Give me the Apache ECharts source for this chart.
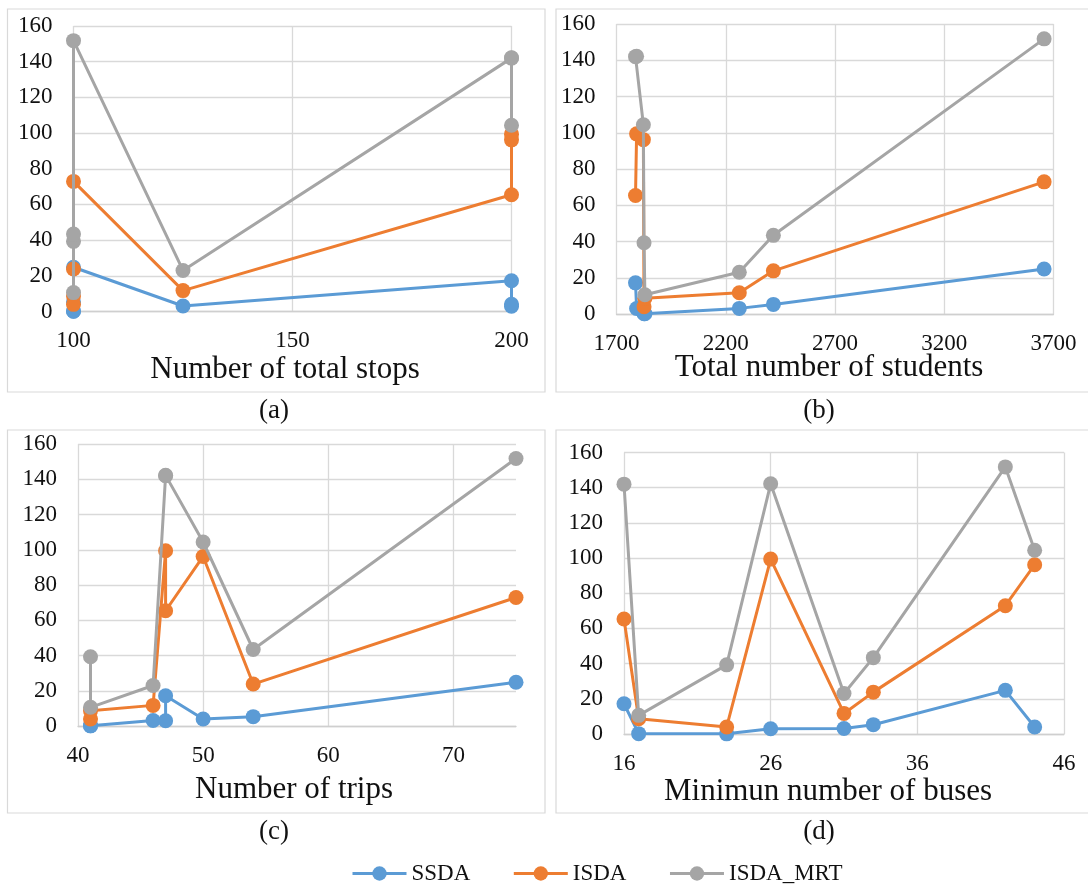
<!DOCTYPE html>
<html><head><meta charset="utf-8">
<script src="https://cdn.jsdelivr.net/npm/echarts@6/dist/echarts.min.js"></script>
<style>html,body{margin:0;padding:0;background:#fff;font-family:"Liberation Serif",serif}#c{width:1088px;height:888px}</style>
</head><body><div id="c"></div>
<script>
// ---- data (one entry per test instance) ----
const seriesNames = ['SSDA', 'ISDA', 'ISDA_MRT'];
const buses    = [16, 17, 23, 26, 31, 33, 42, 44];
const trips    = [47, 41, 41, 47, 46, 54, 75, 50];
const stops    = [200, 100, 100, 200, 125, 100, 100, 200];
const students = [1787, 1830, 1826, 1792, 2262, 2418, 3657, 1823];
const ssda     = [17.2, 0.2, 0.1, 3.0, 3.1, 5.3, 24.8, 4.0];
const isda     = [65.4, 8.7, 4.0, 99.4, 11.7, 23.8, 72.9, 96.2];
const isdaMrt  = [142.0, 10.6, 39.3, 142.2, 23.0, 43.4, 151.8, 104.4];
// order in which the points are joined in each panel
const orderStops    = [1, 2, 5, 6, 4, 0, 3, 7];
const orderStudents = [0, 3, 7, 2, 1, 4, 5, 6];
const orderTrips    = [2, 1, 4, 3, 0, 7, 5, 6];
const orderBuses    = [0, 1, 2, 3, 4, 5, 6, 7];
// axis ticks [min, max, step]
const yMin = 0, yMax = 160, yStep = 20;
const stopsTicks    = [100, 200, 50];
const studentsTicks = [1700, 3700, 500];
const tripsTicks    = [40, 75, 10];
const busesTicks    = [16, 46, 10];
const axisTitles = ['Number of total stops', 'Total number of students', 'Number of trips', 'Minimun number of buses'];
const panelLabels = ['(a)', '(b)', '(c)', '(d)'];

// ---- layout / style ----
const FONT = '"Liberation Serif", serif';
const colors = ['#5B9BD5', '#ED7D31', '#A5A5A5'];
const yValues = [ssda, isda, isdaMrt];
const panels = [
  {x: stops, order: orderStops, ticks: stopsTicks, grid: {left: 73.5, top: 26, width: 438, height: 285.5},
   box: [7.5, 9, 537.5, 383], title: [285, 370], label: [274, 411]},
  {x: students, order: orderStudents, ticks: studentsTicks, grid: {left: 616.5, top: 24, width: 437, height: 290},
   box: [556, 9, 540, 383], title: [829, 368], label: [819, 411]},
  {x: trips, order: orderTrips, ticks: tripsTicks, grid: {left: 78, top: 444, width: 438, height: 282},
   box: [7.5, 430, 537.5, 383], title: [294, 790], label: [274, 832]},
  {x: buses, order: orderBuses, ticks: busesTicks, grid: {left: 624, top: 452.5, width: 440, height: 281.5},
   box: [556, 430, 540, 383], title: [828, 792], label: [819, 832]}
];

const grid = [], xAxis = [], yAxis = [], series = [], graphic = [];
const labelStyle = {fontFamily: FONT, fontSize: 23, color: '#111'};
panels.forEach((p, pi) => {
  const maxOnStep = (p.ticks[1] - p.ticks[0]) % p.ticks[2] === 0;
  grid.push(Object.assign({containLabel: false}, p.grid));
  xAxis.push({
    type: 'value', gridIndex: pi, min: p.ticks[0], max: p.ticks[1], interval: p.ticks[2],
    axisLine: {show: true, onZero: false, lineStyle: {color: '#cfcfcf', width: 1.3}},
    axisTick: {show: false},
    axisLabel: Object.assign({margin: 18, showMaxLabel: maxOnStep, formatter: v => String(v)}, labelStyle),
    splitLine: {show: true, showMaxLine: maxOnStep, lineStyle: {color: '#d9d9d9', width: 1.3}}
  });
  yAxis.push({
    type: 'value', gridIndex: pi, min: yMin, max: yMax, interval: yStep,
    axisLine: {show: false}, axisTick: {show: false},
    axisLabel: Object.assign({margin: 21, formatter: v => String(v)}, labelStyle),
    splitLine: {show: true, lineStyle: {color: '#d9d9d9', width: 1.3}}
  });
  yValues.forEach((ys, si) => {
    series.push({
      name: seriesNames[si], type: 'line', xAxisIndex: pi, yAxisIndex: pi,
      data: p.order.map(i => [p.x[i], ys[i]]),
      symbol: 'circle', symbolSize: 15, showSymbol: true,
      itemStyle: {color: colors[si]},
      lineStyle: {color: colors[si], width: 3},
      emphasis: {disabled: true}, z: 2 + si
    });
  });
  graphic.push({type: 'rect', shape: {x: p.box[0], y: p.box[1], width: p.box[2], height: p.box[3]},
    style: {fill: 'none', stroke: '#d9d9d9', lineWidth: 1.2}, silent: true, z: 0});
  graphic.push({type: 'text', x: p.title[0], y: p.title[1],
    style: {text: axisTitles[pi], font: '31px "Liberation Serif"', fill: '#111', textAlign: 'center', textVerticalAlign: 'middle'}});
  graphic.push({type: 'text', x: p.label[0], y: p.label[1],
    style: {text: panelLabels[pi], font: '27px "Liberation Serif"', fill: '#111', textAlign: 'center', textVerticalAlign: 'middle'}});
});

const chart = echarts.init(document.getElementById('c'), null, {renderer: 'canvas'});
chart.setOption({
  animation: false,
  backgroundColor: '#fff',
  textStyle: {fontFamily: FONT, fontSize: 23, color: '#111'},
  grid, xAxis, yAxis, series, graphic,
  legend: {
    data: seriesNames, left: 346, top: 857, itemWidth: 54, itemHeight: 18, itemGap: 42,
    lineStyle: {width: 3},
    textStyle: {fontFamily: FONT, fontSize: 23, color: '#111'}
  }
});
</script></body></html>
